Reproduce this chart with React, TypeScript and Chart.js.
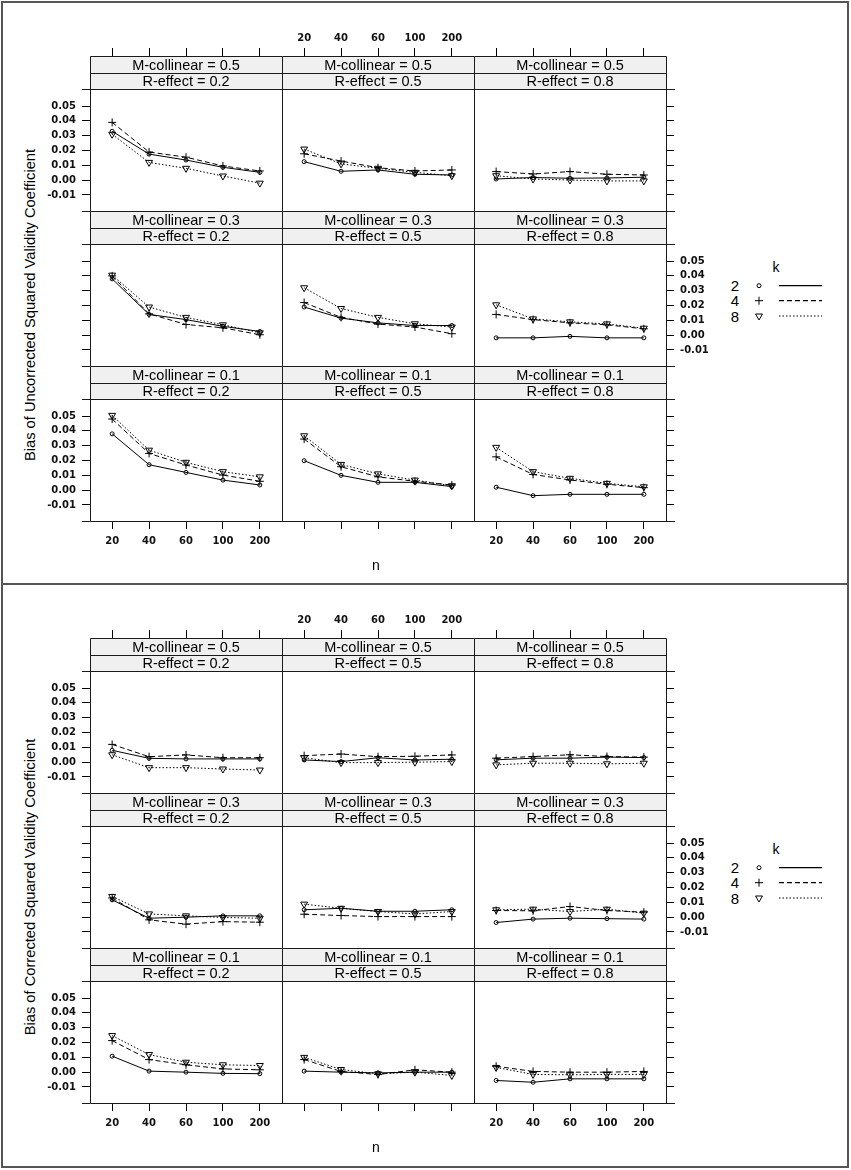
import React, { useEffect, useRef } from "react";
import { Chart, registerables } from "chart.js";

Chart.register(...registerables);

// n on the x axis, one panel per (M-collinear, R-effect)
const nLabels = ["20", "40", "60", "100", "200"];
const kLevels = ["2", "4", "8"];
const collinearLevels = ["0.5", "0.3", "0.1"]; // panel rows, top to bottom
const effectLevels = ["0.2", "0.5", "0.8"]; // panel columns
const yTickValues = [-0.01, 0, 0.01, 0.02, 0.03, 0.04, 0.05];

// bias of the uncorrected squared validity coefficient, [row][col] -> values over n
const uncorrectedK2 = [
  [[0.033, 0.0176, 0.0136, 0.0087, 0.0053], [0.0125, 0.006, 0.0069, 0.004, 0.0035], [0.0008, 0.0018, 0.0013, 0.0015, 0.002]],
  [[0.038, 0.014, 0.0105, 0.006, 0.0025], [0.019, 0.0115, 0.0083, 0.0065, 0.0065], [-0.0018, -0.0018, -0.0008, -0.0018, -0.0018]],
  [[0.038, 0.0172, 0.012, 0.0068, 0.0035], [0.0199, 0.01, 0.0053, 0.0053, 0.0024], [0.002, -0.0037, -0.0028, -0.0028, -0.0028]],
];
const uncorrectedK4 = [
  [[0.039, 0.019, 0.0155, 0.0096, 0.0062], [0.0178, 0.0129, 0.0084, 0.0062, 0.0069], [0.0058, 0.0042, 0.0058, 0.004, 0.0035]],
  [[0.04, 0.0144, 0.0072, 0.005, 0.0003], [0.022, 0.012, 0.0075, 0.0055, 0.001], [0.014, 0.0105, 0.0083, 0.007, 0.0043]],
  [[0.048, 0.0248, 0.017, 0.0102, 0.006], [0.0345, 0.0158, 0.009, 0.006, 0.0035], [0.0225, 0.0106, 0.0069, 0.004, 0.0017]],
];
const uncorrectedK8 = [
  [[0.031, 0.012, 0.008, 0.0028, -0.002], [0.021, 0.011, 0.008, 0.0053, 0.003], [0.003, 0.0008, 0.0001, -0.0005, -0.0005]],
  [[0.0405, 0.019, 0.012, 0.007, 0.0016], [0.032, 0.018, 0.012, 0.0077, 0.0055], [0.0205, 0.011, 0.009, 0.0076, 0.0047]],
  [[0.0505, 0.027, 0.0188, 0.0125, 0.009], [0.0367, 0.0174, 0.011, 0.0068, 0.003], [0.0289, 0.0125, 0.008, 0.0046, 0.0023]],
];

// bias of the corrected squared validity coefficient
const correctedK2 = [
  [[0.008, 0.0026, 0.0022, 0.0022, 0.0022], [0.0015, 0.0004, 0.003, 0.0015, 0.002], [0.0016, 0.0027, 0.0027, 0.0034, 0.0031]],
  [[0.0117, -0.0007, 0.0, 0.0009, 0.0009], [0.005, 0.006, 0.004, 0.004, 0.005], [-0.0036, -0.0013, -0.0007, -0.001, -0.0013]],
  [[0.0108, 0.0007, 0.0, -0.0008, -0.001], [0.0007, 0.0, -0.0005, 0.0, 0.0], [-0.0056, -0.0068, -0.0045, -0.0045, -0.0045]],
];
const correctedK4 = [
  [[0.012, 0.0037, 0.0049, 0.003, 0.003], [0.0044, 0.0055, 0.0037, 0.004, 0.0049], [0.0027, 0.0038, 0.005, 0.0038, 0.0034]],
  [[0.013, -0.0018, -0.0047, -0.003, -0.0034], [0.002, 0.0011, 0.0004, 0.0004, 0.0004], [0.0045, 0.0043, 0.0072, 0.0045, 0.0034]],
  [[0.0213, 0.0085, 0.005, 0.0022, 0.0016], [0.0085, 0.0005, -0.0016, 0.0016, 0.0], [0.004, 0.0005, 0.0, 0.0, 0.0005]],
];
const correctedK8 = [
  [[0.005, -0.0037, -0.0037, -0.0046, -0.0053], [0.003, -0.0003, -0.0003, 0.0, 0.0004], [-0.0018, -0.0007, -0.0007, -0.0011, -0.0007]],
  [[0.014, 0.0022, 0.0009, -0.0002, -0.0007], [0.0088, 0.006, 0.0038, 0.0022, 0.0038], [0.005, 0.0054, 0.0038, 0.0054, 0.0027]],
  [[0.0247, 0.0119, 0.0067, 0.005, 0.0045], [0.01, 0.0018, -0.0011, 0.0, -0.0022], [0.0032, -0.0015, -0.0018, -0.0015, -0.0015]],
];

type Fig = { offset: number; title: string; series: number[][][][] };

const figures: Fig[] = [
  { offset: 0, title: "Bias of Uncorrected Squared Validity Coefficient", series: [uncorrectedK2, uncorrectedK4, uncorrectedK8] },
  { offset: 582, title: "Bias of Corrected Squared Validity Coefficient", series: [correctedK2, correctedK4, correctedK8] },
];

const FONT = '"Liberation Sans", Arial, sans-serif';
const TICK_FONT = '"DejaVu Sans", Verdana, sans-serif';

// layout of the lattice
const M = 48; // canvas margin around a panel, room for the axes
const COL_W = 192;
const ROW_H = 155; // two strips + panel
const LEFT0 = 90;
const TOP0 = 56;

// y range of a panel; the strips sit above Y_PANEL_TOP inside the chart area
const Y_MIN = -0.0208;
const Y_PANEL_TOP = 0.0615;
const Y_MAX = 0.0838;

const kDash = [[], [5, 3], [1.5, 2]];
const kPointStyle = ["circle", "cross", "triangle"];
const kPointRadius = [2, 4, 4];
const kRotation = [0, 0, 180];

function Panel({ fig, row, col }: { fig: Fig; row: number; col: number }) {
  const canvasRef = useRef<HTMLCanvasElement | null>(null);

  useEffect(() => {
    const ctx = canvasRef.current?.getContext("2d");
    if (!ctx) return;

    const tickFont = { family: TICK_FONT, size: 10, weight: "bold" as const };
    const showTop = row === 0;
    const showBottom = row === 2;
    const showLeft = col === 0;
    const showRight = col === 2;

    const xAxis = (position: string, ticks: boolean, labels: boolean) => ({
      type: "linear",
      position,
      min: 0.4,
      max: 5.6,
      afterBuildTicks: (s: any) => {
        s.ticks = nLabels.map((_, i) => ({ value: i + 1 }));
      },
      afterFit: (s: any) => {
        s.height = M;
      },
      ticks: {
        display: labels,
        autoSkip: false,
        maxRotation: 0,
        padding: position === "top" ? 4 : 6,
        color: "#111",
        font: tickFont,
        callback: (v: any) => nLabels[Math.round(v) - 1],
      },
      grid: { display: ticks, drawOnChartArea: false, drawTicks: true, tickLength: 8, tickColor: "#000", tickWidth: 1 },
      border: { display: false },
    });

    const yAxis = (position: string, ticks: boolean, labels: boolean) => ({
      type: "linear",
      position,
      min: Y_MIN,
      max: Y_MAX,
      afterBuildTicks: (s: any) => {
        s.ticks = yTickValues.map((v) => ({ value: v }));
      },
      afterFit: (s: any) => {
        s.width = M;
      },
      ticks: {
        display: labels,
        padding: 6,
        color: "#111",
        font: tickFont,
        callback: (v: any) => Number(v).toFixed(2),
      },
      grid: { display: ticks, drawOnChartArea: false, drawTicks: true, tickLength: 8, tickColor: "#000", tickWidth: 1 },
      border: { display: false },
    });

    // strips and panel borders
    const frame = {
      id: "frame",
      afterDatasetsDraw(chart: any) {
        const c = chart.ctx;
        const { left, right, top, bottom } = chart.chartArea;
        const pTop = Math.round(chart.scales.y.getPixelForValue(Y_PANEL_TOP));
        const mid = Math.round((top + pTop) / 2);
        c.save();
        c.fillStyle = "#f0f0f0";
        c.fillRect(left, top, right - left, pTop - top);
        c.fillStyle = "#000";
        c.font = `14.5px ${FONT}`;
        c.textAlign = "center";
        c.textBaseline = "middle";
        const cx = (left + right) / 2;
        c.fillText(`M-collinear = ${collinearLevels[row]}`, cx, (top + mid) / 2 + 1);
        c.fillText(`R-effect = ${effectLevels[col]}`, cx, (mid + pTop) / 2 + 1);
        c.strokeStyle = "#1a1a1a";
        c.lineWidth = 1;
        c.beginPath();
        c.rect(left + 0.5, top + 0.5, right - left, bottom - top);
        c.moveTo(left, mid + 0.5);
        c.lineTo(right, mid + 0.5);
        c.moveTo(left, pTop + 0.5);
        c.lineTo(right, pTop + 0.5);
        if (col === 0) {
          c.moveTo(left - 8, pTop + 0.5);
          c.lineTo(left, pTop + 0.5);
          c.moveTo(left - 8, bottom + 0.5);
          c.lineTo(left, bottom + 0.5);
        }
        if (col === 2) {
          c.moveTo(right, pTop + 0.5);
          c.lineTo(right + 9, pTop + 0.5);
          c.moveTo(right, bottom + 0.5);
          c.lineTo(right + 9, bottom + 0.5);
        }
        c.stroke();
        c.restore();
      },
    };

    const chart = new Chart(ctx, {
      type: "line",
      data: {
        datasets: kLevels.map((k, i) => ({
          label: k,
          data: fig.series[i][row][col].map((v, j) => ({ x: j + 1, y: v })),
          borderColor: "#000",
          borderWidth: 1,
          borderDash: kDash[i],
          pointStyle: kPointStyle[i] as any,
          pointRadius: kPointRadius[i],
          pointRotation: kRotation[i],
          pointBorderColor: "#000",
          pointBackgroundColor: "rgba(0,0,0,0)",
          pointBorderWidth: 1,
          tension: 0,
          xAxisID: "x",
          yAxisID: "y",
        })),
      },
      options: {
        responsive: false,
        animation: false,
        events: [],
        layout: { padding: 0 },
        plugins: { legend: { display: false }, tooltip: { enabled: false } },
        scales: {
          x: xAxis("bottom", showBottom, showBottom && col !== 1),
          x2: xAxis("top", showTop, showTop && col === 1),
          y: yAxis("left", showLeft, showLeft && row !== 1),
          y2: yAxis("right", showRight, showRight && row === 1),
        } as any,
      },
      plugins: [frame],
    });

    return () => {
      chart.destroy();
    };
  }, [fig, row, col]);

  return (
    <canvas
      ref={canvasRef}
      width={COL_W + 2 * M}
      height={ROW_H + 2 * M}
      style={{
        position: "absolute",
        left: LEFT0 + col * COL_W - M,
        top: fig.offset + TOP0 + row * ROW_H - M,
        width: COL_W + 2 * M,
        height: ROW_H + 2 * M,
      }}
    />
  );
}

function Legend({ top }: { top: number }) {
  const rows = [30.7, 45.7, 61];
  return (
    <svg
      width={130}
      height={80}
      style={{ position: "absolute", left: 720, top, overflow: "visible" }}
      fontFamily={FONT}
    >
      <text x={56} y={11.7} fontSize={14} fill="#000" textAnchor="middle" dominantBaseline="central">
        k
      </text>
      {kLevels.map((k, i) => (
        <g key={k}>
          <text x={15} y={rows[i]} fontSize={15} fill="#000" textAnchor="middle" dominantBaseline="central">
            {k}
          </text>
          {i === 0 && <circle cx={39} cy={rows[i]} r={2} fill="none" stroke="#000" strokeWidth={1} />}
          {i === 1 && (
            <path d={`M35 ${rows[i]}H43M39 ${rows[i] - 4}V${rows[i] + 4}`} stroke="#000" strokeWidth={1} />
          )}
          {i === 2 && (
            <polygon
              points={`35.5,${rows[i] - 2} 42.5,${rows[i] - 2} 39,${rows[i] + 4}`}
              fill="none"
              stroke="#000"
              strokeWidth={1}
            />
          )}
          <line
            x1={59}
            x2={102}
            y1={rows[i]}
            y2={rows[i]}
            stroke="#000"
            strokeWidth={1.2}
            strokeDasharray={kDash[i].length ? kDash[i].join(" ") : undefined}
          />
        </g>
      ))}
    </svg>
  );
}

export default function App() {
  return (
    <div style={{ position: "absolute", left: 0, top: 0, width: 851, height: 1170, background: "#fff", fontFamily: FONT }}>
      {figures.map((fig, f) => (
        <React.Fragment key={fig.title}>
          <div
            style={{
              position: "absolute",
              left: 1,
              top: fig.offset + 1,
              width: 844,
              height: f === 0 ? 580 : 581,
              border: "2px solid #555",
            }}
          />
          {collinearLevels.map((_, r) =>
            effectLevels.map((__, c) => <Panel key={`${r}-${c}`} fig={fig} row={r} col={c} />)
          )}
          <div
            style={{
              position: "absolute",
              left: 30 - 250,
              top: fig.offset + 305 - 9,
              width: 500,
              height: 18,
              lineHeight: "18px",
              fontSize: 14.7,
              textAlign: "center",
              transform: "rotate(-90deg)",
              transformOrigin: "50% 50%",
              color: "#000",
            }}
          >
            {fig.title}
          </div>
          <div
            style={{
              position: "absolute",
              left: 376 - 20,
              top: fig.offset + 565 - 9,
              width: 40,
              height: 18,
              lineHeight: "18px",
              fontSize: 14,
              textAlign: "center",
              color: "#000",
            }}
          >
            n
          </div>
          <Legend top={fig.offset + 255} />
        </React.Fragment>
      ))}
    </div>
  );
}
